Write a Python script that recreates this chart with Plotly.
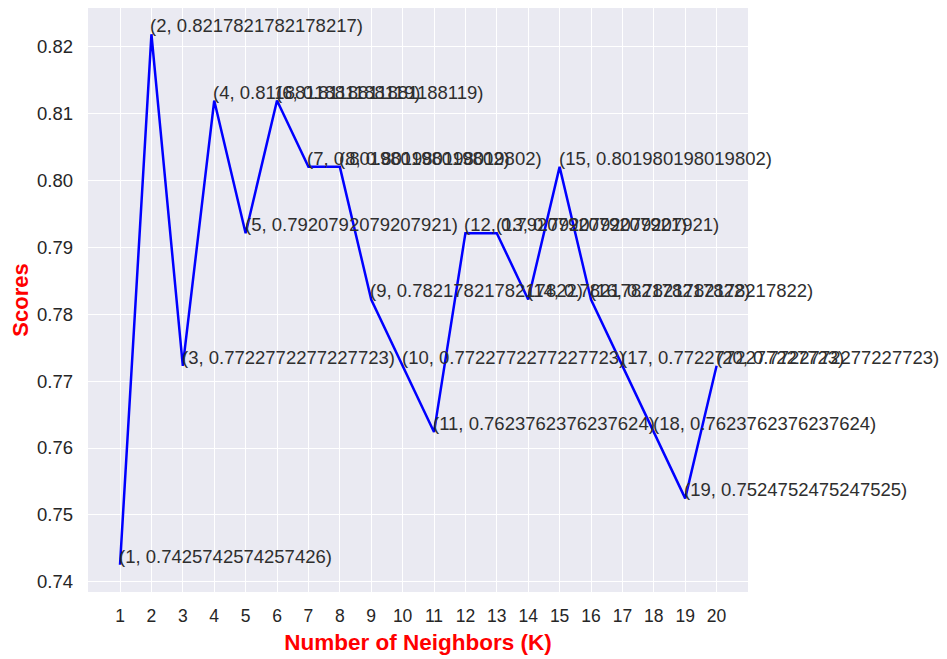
import plotly.graph_objects as go

k_values = list(range(1, 21))
scores = [
    0.7425742574257426, 0.8217821782178217, 0.7722772277227723, 0.8118811881188119,
    0.7920792079207921, 0.8118811881188119, 0.801980198019802, 0.801980198019802,
    0.7821782178217822, 0.7722772277227723, 0.7623762376237624, 0.7920792079207921,
    0.7920792079207921, 0.7821782178217822, 0.801980198019802, 0.7821782178217822,
    0.7722772277227723, 0.7623762376237624, 0.7524752475247525, 0.7722772277227723,
]
y_ticks = [0.74, 0.75, 0.76, 0.77, 0.78, 0.79, 0.80, 0.81, 0.82]
x_title = "Number of Neighbors (K)"
y_title = "Scores"

FONT = "Liberation Sans, Arial, sans-serif"

fig = go.Figure()
fig.add_trace(go.Scatter(
    x=k_values, y=scores, mode="lines",
    line=dict(color="#0000ff", width=2.5),
    showlegend=False, hoverinfo="skip",
))

for k, s in zip(k_values, scores):
    fig.add_annotation(
        x=k, y=s, xref="x", yref="y",
        text=f"({k}, {s})", showarrow=False,
        xanchor="left", yanchor="bottom", yshift=-4, xshift=-3,
        font=dict(family=FONT, size=18.5, color="#2e2e2e"),
    )

fig.update_layout(
    width=947, height=659,
    margin=dict(l=80, r=207, t=0, b=75, autoexpand=False),
    paper_bgcolor="white",
    plot_bgcolor="#eaeaf2",
    font=dict(family=FONT, color="#262626"),
    xaxis=dict(
        range=[-0.02, 21.0], automargin=False,
        tickmode="array", tickvals=k_values, ticktext=[str(k) for k in k_values],
        showgrid=True, gridcolor="white", gridwidth=1.3,
        zeroline=False, showline=False, ticks="",
        tickfont=dict(family=FONT, size=17.5, color="#262626"),
        ticklabelstandoff=11,
        title=dict(text=x_title, font=dict(family=FONT, size=22.5, color="red", weight="bold"), standoff=9),
    ),
    yaxis=dict(
        range=[0.7385, 0.8257], automargin=False,
        tickmode="array", tickvals=y_ticks, ticktext=[f"{v:.2f}" for v in y_ticks],
        showgrid=True, gridcolor="white", gridwidth=1.3,
        zeroline=False, showline=False, ticks="",
        tickfont=dict(family=FONT, size=18.5, color="#262626"),
        ticklabelstandoff=14,
        title=dict(text=y_title, font=dict(family=FONT, size=22, color="red", weight="bold"), standoff=8),
    ),
)

fig.write_html("out.html")
